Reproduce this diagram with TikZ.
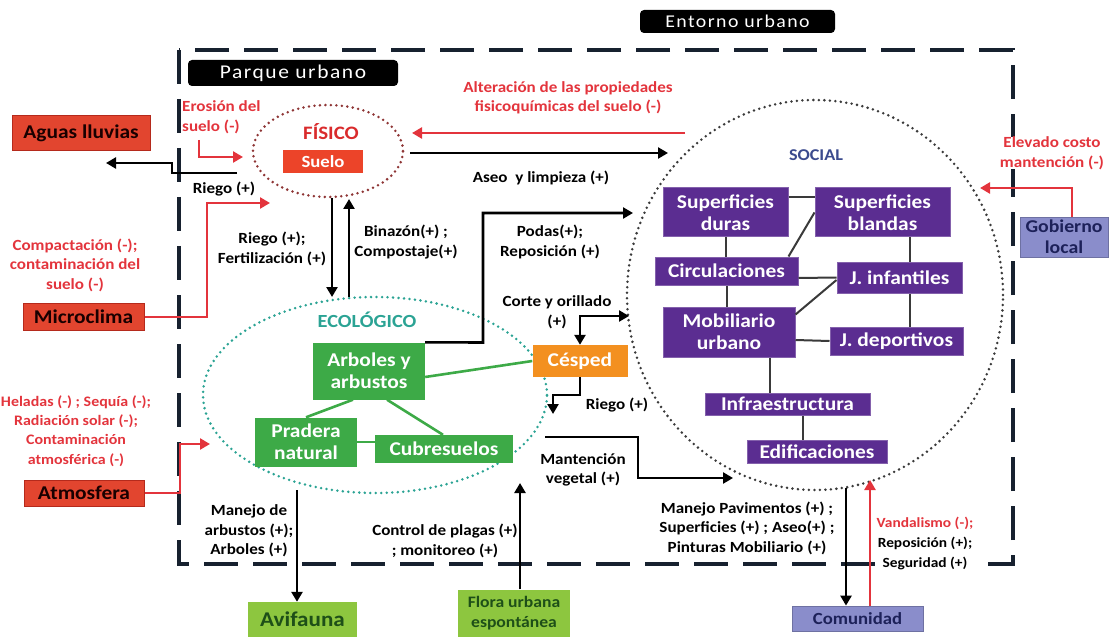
\documentclass[tikz,border=0pt]{standalone}
\usepackage{fontspec}
\setmainfont{Carlito}[FakeStretch=1.1]
\newfontfamily\tagfont{Carlito}[FakeStretch=1.1,LetterSpace=8]
\usetikzlibrary{arrows.meta,shapes.geometric}

\definecolor{labred}{HTML}{E3343C}
\definecolor{boxred}{HTML}{E2452F}
\definecolor{boxredline}{HTML}{B52A1C}
\definecolor{suelored}{HTML}{EC4429}
\definecolor{fisred}{HTML}{D92B2C}
\definecolor{fisdots}{HTML}{8E3535}
\definecolor{ecoteal}{HTML}{2BA394}
\definecolor{ecogreen}{HTML}{3DAA47}
\definecolor{cespedor}{HTML}{F39020}
\definecolor{socpurple}{HTML}{5B2D91}
\definecolor{socline}{HTML}{3A3A3A}
\definecolor{socialtxt}{HTML}{3B4B8E}
\definecolor{lavbox}{HTML}{8A8DCB}
\definecolor{navytxt}{HTML}{1D2159}
\definecolor{limebox}{HTML}{8DC63F}
\definecolor{limetxt}{HTML}{1E4F18}
\definecolor{frame}{HTML}{17212F}

\tikzset{
  lbl/.style={font=\bfseries\fontsize{15.5}{19.5}\selectfont, align=center, inner sep=0pt, text=black},
  rlbl/.style={lbl, text=labred},
  tag/.style={fill=black, text=white, rounded corners=4pt, inner sep=0pt},
  zone/.style={ellipse, inner sep=0pt, line width=2.8pt, line cap=round, dash pattern=on 0pt off 5.5pt},
  bx/.style={inner sep=0pt, align=center, font=\bfseries\fontsize{19.5}{22}\selectfont},
  extred/.style={bx, fill=boxred, draw=boxredline, line width=1pt, text=black!90!red},
  ecobox/.style={bx, fill=ecogreen, text=white},
  socbox/.style={bx, fill=socpurple, draw=socpurple!75!white, line width=1pt, text=white},
  lavb/.style={bx, fill=lavbox, draw=lavbox!80!black, line width=0.8pt, text=navytxt},
  limeb/.style={bx, fill=limebox, text=limetxt},
  arr/.style={-{Triangle[length=10pt,width=11pt]}, line width=2.6pt, draw=black},
  darr/.style={{Triangle[length=10pt,width=11pt]}-{Triangle[length=10pt,width=11pt]}, line width=2.6pt, draw=black},
  rarr/.style={arr, draw=labred},
  link/.style={line width=2pt, draw=socline},
  glink/.style={line width=2.6pt, draw=ecogreen},
}

\begin{document}
\begin{tikzpicture}[x=1pt,y=-1pt]
\useasboundingbox (0,0) rectangle (1111,639);

% ---- zones ----
\node[zone, draw=fisdots, minimum width=150, minimum height=92] (fis) at (328,151) {};
\node[zone, draw=ecoteal, minimum width=344, minimum height=196] (eco) at (375,395) {};
\node[zone, draw=socline, minimum width=376, minimum height=390] (soc) at (815,295) {};

% ---- outer frame of the urban surroundings ----
\draw[frame, line width=3.8pt, dash pattern=on 34pt off 15pt] (179,50) rectangle (1013,564);

\node[tag, minimum width=195, minimum height=23, font=\tagfont\fontsize{18}{20}\selectfont] (entorno) at (737.5,21.5) {Entorno urbano};
\node[tag, minimum width=210, minimum height=26, font=\tagfont\fontsize{19.5}{21}\selectfont] (parque) at (293,73) {Parque urbano};

% ---- physical component ----
\node[font=\bfseries\fontsize{19}{22}\selectfont, text=fisred, inner sep=0pt] (fistxt) at (331,132) {FÍSICO};
\node[bx, fill=suelored, text=white, minimum width=80, minimum height=23, font=\bfseries\fontsize{17}{20}\selectfont] (suelo) at (323,162) {Suelo};

% ---- external factors ----
\node[extred, minimum width=138, minimum height=35] (aguas) at (81,133) {Aguas lluvias};
\node[extred, minimum width=121, minimum height=27] (micro) at (83.5,317) {Microclima};
\node[extred, minimum width=120, minimum height=26] (atmo) at (84,493) {Atmosfera};

% ---- ecological component ----
\node[font=\bfseries\fontsize{18.5}{21}\selectfont, text=ecoteal, inner sep=0pt] (ecotxt) at (367,320) {ECOLÓGICO};

\node[ecobox, minimum width=112, minimum height=57] (arb) at (369,371) {Arboles y\\arbustos};
\node[ecobox, minimum width=102, minimum height=49] (prad) at (306,442) {Pradera\\natural};
\node[ecobox, minimum width=138, minimum height=28] (cub) at (444,449) {Cubresuelos};
\node[bx, fill=cespedor, text=white, minimum width=95, minimum height=32] (cesp) at (580,361) {Césped};

\draw[glink] ([xshift=-16pt]arb.south) -- (prad.north);
\draw[glink] ([xshift=18pt]arb.south) -- ([xshift=-1pt]cub.north);
\draw[glink] (prad.east) -- (prad.east -| cub.west);
\draw[glink] ([yshift=-6pt]arb.east) -- (cesp.west);

% ---- social component ----
\node[font=\bfseries\fontsize{16.5}{20}\selectfont, text=socialtxt, inner sep=0pt] (soctxt) at (816,155) {SOCIAL};

\node[socbox, minimum width=125, minimum height=49] (sd) at (725.5,212.5) {Superficies\\duras};
\node[socbox, minimum width=135, minimum height=49] (sb) at (882.5,212.5) {Superficies\\blandas};
\node[socbox, minimum width=143, minimum height=28] (circ) at (726.5,271) {Circulaciones};
\node[socbox, minimum width=125, minimum height=31] (jinf) at (899.5,277.5) {J. infantiles};
\node[socbox, minimum width=132, minimum height=50] (mob) at (729,332) {Mobiliario\\urbano};
\node[socbox, minimum width=133, minimum height=28] (jdep) at (896.5,341) {J. deportivos};
\node[socbox, minimum width=165, minimum height=22] (infra) at (787.5,404) {Infraestructura};
\node[socbox, minimum width=140, minimum height=23] (edif) at (817,451.5) {Edificaciones};

\draw[link] ([yshift=15pt]sd.east) -- ([yshift=15pt]sb.west);
\draw[link] (sd.south) -- ([xshift=-1pt]circ.north);
\draw[link] ([xshift=-10pt]circ.north east) -- (sb.west);
\draw[link] ([xshift=27.5pt]sb.south) -- ([xshift=10.5pt]jinf.north);
\draw[link] ([yshift=-7pt]circ.east) -- (jinf.west);
\draw[link] ([yshift=-8pt]mob.north east) -- ([yshift=-2.5pt]jinf.west);
\draw[link] ([xshift=10.5pt]jinf.south) -- ([xshift=13.5pt]jdep.north);
\draw[link] ([yshift=-8pt]mob.east) -- (jdep.west);
\draw[link] ([xshift=0.5pt]circ.south) -- ([xshift=-2pt]mob.north);
\draw[link] ([xshift=41pt]mob.south) -- ([xshift=-17.5pt]infra.north);
\draw[link] ([xshift=15.5pt]infra.south) -- ([xshift=-14pt]edif.north);

% ---- actors outside the park ----
\node[lavb, minimum width=88, minimum height=40, font=\bfseries\fontsize{18}{21}\selectfont] (gob) at (1064,237) {Gobierno\\local};
\node[lavb, minimum width=131, minimum height=25, font=\bfseries\fontsize{17}{20}\selectfont] (com) at (857.5,618.5) {Comunidad};
\node[limeb, minimum width=109, minimum height=35, font=\bfseries\fontsize{21}{23}\selectfont] (avi) at (302.5,619.5) {Avifauna};
\node[limeb, minimum width=112, minimum height=47, font=\bfseries\fontsize{16}{20}\selectfont] (flora) at (514,613) {Flora urbana\\espontánea};

% ---- labels ----
\node[rlbl, align=left, anchor=west] (erosion) at (182,117) {Erosión del\\suelo (-)};
\node[rlbl] (compact) at (75,265) {Compactación (-);\\contaminación del\\suelo (-)};
\node[rlbl, font=\bfseries\fontsize{14.5}{19.3}\selectfont] (helad) at (76,431) {Heladas (-) ; Sequía (-);\\Radiación solar (-);\\Contaminación\\atmosférica (-)};
\node[rlbl] (alter) at (568,98) {Alteración de las propiedades\\fisicoquímicas del suelo (-)};
\node[rlbl, fill=white] (elev) at (1052,153) {Elevado costo\\mantención (-)};
\node[lbl, fill=white, font=\bfseries\fontsize{14}{20}\selectfont] (vand) at (925,543) {\textcolor{labred}{Vandalismo (-);}\\Reposición (+);\\Seguridad (+)};

\node[lbl] (riegoA) at (224,189) {Riego (+)};
\node[lbl] (riegoF) at (272,249) {Riego (+);\\Fertilización (+)};
\node[lbl] (binaz) at (406,242) {Binazón(+) ;\\Compostaje(+)};
\node[lbl] (aseo) at (541,178) {Aseo\ \ y limpieza (+)};
\node[lbl] (podas) at (550,242) {Podas(+);\\Reposición (+)};
\node[lbl] (corte) at (557,312) {Corte y orillado\\(+)};
\node[lbl] (riegoC) at (617,405) {Riego (+)};
\node[lbl] (mant) at (583,470) {Mantención\\vegetal (+)};
\node[lbl] (manejoP) at (747,528) {Manejo Pavimentos (+) ;\\Superficies (+) ; Aseo(+) ;\\Pinturas Mobiliario (+)};
\node[lbl] (manejoA) at (249,531) {Manejo de\\arbustos (+);\\Arboles (+)};
\node[lbl] (control) at (445,541) {Control de plagas (+)\\; monitoreo (+)};

% ---- connectors ----
\coordinate (fisOutA) at (237,173);
\coordinate (aguasIn) at (106,163);
\draw[arr] (fisOutA) -- (172,173) -- (172,163) -- (aguasIn);

\coordinate (eroStart) at (199,140);
\coordinate (eroEnd) at (243,157);
\draw[rarr] (eroStart) |- (eroEnd);

\coordinate (microEnd) at (270,203);
\draw[rarr] (micro.east) -- (207,317) |- (microEnd);

\coordinate (atmoEnd) at (210,444);
\draw[rarr] (atmo.east) -| (180,444) -- (atmoEnd);

\coordinate (fisDown) at (332,198);
\coordinate (ecoDown) at (332,297);
\draw[arr] (fisDown) -- (ecoDown);
\coordinate (ecoUp) at (349,297);
\coordinate (fisUp) at (349,199);
\draw[arr] (ecoUp) -- (fisUp);

\coordinate (socAlt) at (685,133);
\coordinate (fisAlt) at (412,133);
\draw[rarr] (socAlt) -- (fisAlt);
\coordinate (fisAseo) at (410,153);
\coordinate (socAseo) at (668,153);
\draw[arr] (fisAseo) -- (socAseo);

\coordinate (socPodas) at (633,213);
\draw[arr] (arb.north east) -- (483,342.5) -- (483,213) -- (socPodas);

\coordinate (socCorte) at (629,316);
\draw[darr] (socCorte) -- (580,316) -- (cesp.north);

\coordinate (cespRiego) at (553,414);
\draw[arr] (cesp.south) -- (580,395) -| (cespRiego);

\coordinate (ecoMant) at (545,437);
\coordinate (socMant) at (733,478);
\draw[arr] (ecoMant) -- (638,437) -- (638,478) -- (socMant);

\coordinate (ecoAvi) at (297,490);
\draw[arr] (ecoAvi) -- (avi.north -| ecoAvi);

\coordinate (ecoFlora) at (520,483);
\draw[arr] (flora.north -| ecoFlora) -- (ecoFlora);

\coordinate (socCom) at (846,488);
\draw[arr] (socCom) -- (com.north -| socCom);
\coordinate (socVand) at (870,480);
\draw[rarr] (com.north -| socVand) -- (socVand);

\coordinate (socGob) at (980,188);
\draw[rarr] ([xshift=8pt]gob.north) |- (socGob);

\end{tikzpicture}
\end{document}
